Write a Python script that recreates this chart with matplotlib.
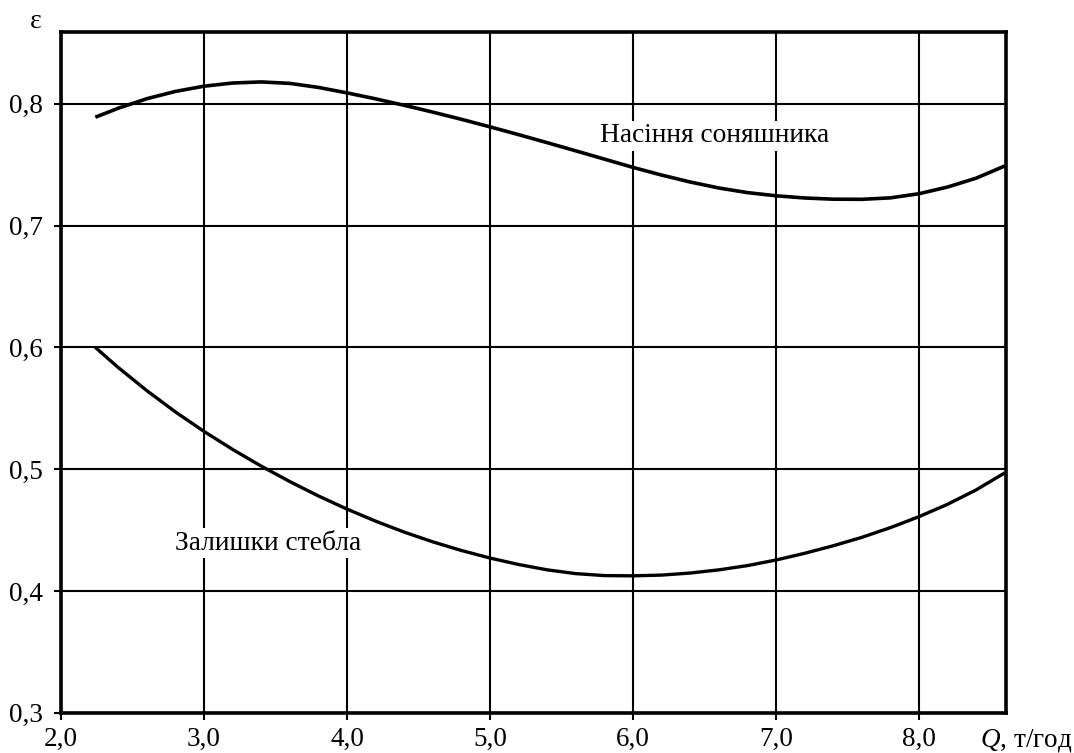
import matplotlib
matplotlib.use("Agg")
import matplotlib.pyplot as plt

plt.rcParams['font.family'] = ['Liberation Serif', 'DejaVu Serif']
plt.rcParams['mathtext.fontset'] = 'custom'
plt.rcParams['mathtext.it'] = 'Liberation Serif:italic'
plt.rcParams['mathtext.rm'] = 'Liberation Serif'

# Data
q_seed = [2.24, 2.4, 2.6, 2.8, 3.0, 3.2, 3.4, 3.6, 3.8, 4.0, 4.2, 4.4, 4.6, 4.8,
          5.0, 5.2, 5.4, 5.6, 5.8, 6.0, 6.2, 6.4, 6.6, 6.8, 7.0, 7.2, 7.4, 7.6,
          7.8, 8.0, 8.2, 8.4, 8.6]
eps_seed = [0.789, 0.7964, 0.8042, 0.8102, 0.8145, 0.8171, 0.818, 0.8168, 0.8135,
            0.809, 0.8041, 0.7988, 0.7932, 0.7873, 0.7811, 0.7747, 0.7681, 0.7614,
            0.7546, 0.7478, 0.7415, 0.7358, 0.7309, 0.7271, 0.7245, 0.7227, 0.7217,
            0.7216, 0.7228, 0.7262, 0.7317, 0.7390, 0.749]

q_stem = [2.24, 2.4, 2.6, 2.8, 3.0, 3.2, 3.4, 3.6, 3.8, 4.0, 4.2, 4.4, 4.6, 4.8,
          5.0, 5.2, 5.4, 5.6, 5.8, 6.0, 6.2, 6.4, 6.6, 6.8, 7.0, 7.2, 7.4, 7.6,
          7.8, 8.0, 8.2, 8.4, 8.6]
eps_stem = [0.600, 0.5835, 0.5645, 0.5470, 0.5310, 0.5162, 0.5025, 0.4898, 0.4780,
            0.4672, 0.4573, 0.4483, 0.4403, 0.4332, 0.4270, 0.4217, 0.4173, 0.4142,
            0.4126, 0.4124, 0.4130, 0.4147, 0.4173, 0.4208, 0.4254, 0.4309, 0.4371,
            0.4440, 0.4520, 0.4610, 0.4712, 0.4830, 0.497]

x_ticks = [2.0, 3.0, 4.0, 5.0, 6.0, 7.0, 8.0]
x_tick_labels = ['2,0', '3,0', '4,0', '5,0', '6,0', '7,0', '8,0']
y_ticks = [0.3, 0.4, 0.5, 0.6, 0.7, 0.8]
y_tick_labels = ['0,3', '0,4', '0,5', '0,6', '0,7', '0,8']

label_seed = 'Насіння соняшника'
label_stem = 'Залишки стебла'

fig = plt.figure(figsize=(10.74, 7.53), dpi=100)
ax = fig.add_axes([61/1074, 1 - 712.7/753, (1006 - 61)/1074, (712.7 - 32)/753])

ax.set_xlim(2.0, 8.608)
ax.set_ylim(0.3, 0.859)

ax.set_xticks(x_ticks)
ax.set_xticklabels(x_tick_labels)
ax.set_yticks(y_ticks)
ax.set_yticklabels(y_tick_labels)

ax.grid(True, color='black', linewidth=1.5)
ax.set_axisbelow(True)
for s in ax.spines.values():
    s.set_linewidth(2.6)
    s.set_color('black')

ax.tick_params(axis='both', direction='out', length=5, width=1.5,
               labelsize=19.5, colors='black')
ax.tick_params(axis='y', pad=8)
ax.tick_params(axis='x', pad=5)

ax.plot(q_seed, eps_seed, color='black', linewidth=2.6, solid_capstyle='butt', zorder=3)
ax.plot(q_stem, eps_stem, color='black', linewidth=2.4, solid_capstyle='butt', zorder=3)

bbox = dict(facecolor='white', edgecolor='none', pad=2)
ax.annotate(label_seed, xy=(715, 753 - 136), xycoords='figure pixels',
            ha='center', va='center', fontsize=19.8, bbox=bbox, zorder=4)
ax.annotate(label_stem, xy=(268, 753 - 543), xycoords='figure pixels',
            ha='center', va='center', fontsize=19.8, bbox=bbox, zorder=4)

fig.text(36/1074, 1 - 22/753, 'ε', ha='center', va='center', fontsize=20)
fig.text(980/1074, 1 - 741/753, r'$Q$, т/год', ha='left', va='center', fontsize=19.5)

fig.savefig('out.png', dpi=100, facecolor='white')
